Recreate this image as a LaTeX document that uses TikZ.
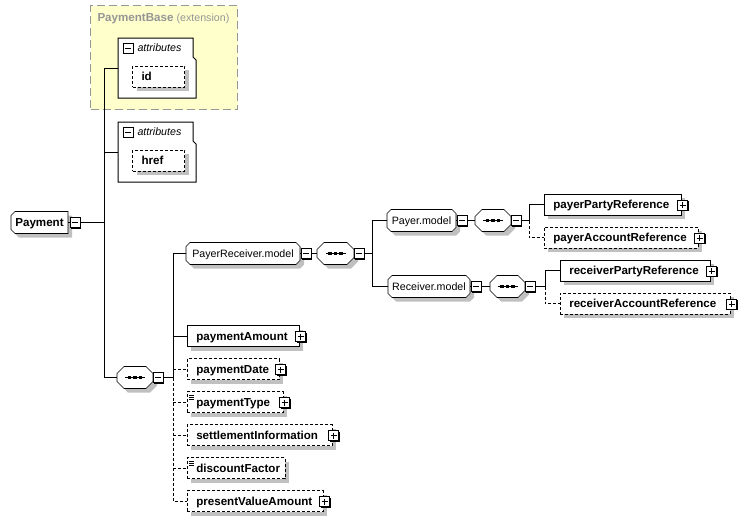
\documentclass[tikz,border=0pt]{standalone}
\usepackage{fontspec}
\setmainfont{Liberation Sans}
\usetikzlibrary{shadows,backgrounds,calc}
\newdimen\pxu \pxu=0.75pt
\definecolor{shgray}{RGB}{192,192,192}
\definecolor{baseyellow}{RGB}{255,255,204}
\definecolor{basegray}{RGB}{150,150,150}
\newcommand\regfont{\fontsize{8}{9.6}\selectfont}
\newcommand\boldfont{\fontsize{8.7}{10}\selectfont\bfseries}
% group outline: node, left cut, right cut, offset, style
\newcommand\grpshape[5]{%
  \filldraw[#5] ([shift={(#2+#4,#4)}]#1.north west) -- ([shift={(-#3+#4,#4)}]#1.north east)
    -- ([shift={(#4,#3+#4)}]#1.north east) -- ([shift={(#4,-#3+#4)}]#1.south east)
    -- ([shift={(-#3+#4,#4)}]#1.south east) -- ([shift={(#2+#4,#4)}]#1.south west)
    -- ([shift={(#4,-#2+#4)}]#1.south west) -- ([shift={(#4,#2+#4)}]#1.north west) -- cycle;}
\newcommand\grpbox[3]{%
  \grpshape{#1}{#2}{#3}{4}{fill=shgray, draw=none}
  \grpshape{#1}{#2}{#3}{0}{fill=white, draw=black}}
% attributes tab
\newcommand\attrshape[1]{%
  \filldraw[fill=white] (#1.north west) -- ([shift={(-3,0)}]#1.north east)
    -- ([shift={(-3,19)}]#1.north east) -- ([shift={(0,22)}]#1.north east)
    -- (#1.south east) -- (#1.south west) -- cycle;}
\tikzset{
  elem/.style={draw, fill=white, anchor=west, inner xsep=9\pxu, inner ysep=0pt,
    minimum height=21\pxu, text width=#1\pxu, align=left,
    text height=6.2pt, text depth=0pt, font=\boldfont,
    drop shadow={shadow xshift=3pt, shadow yshift=-3pt, fill=shgray, opacity=1}},
  optelem/.style={elem=#1, dash pattern=on 2.25pt off 1.5pt},
  grp/.style={anchor=west, inner sep=0pt, minimum width=#1\pxu, minimum height=21\pxu,
    text height=5.7pt, text depth=0pt, font=\regfont},
  seq/.style={anchor=west, inner sep=0pt, minimum width=#1\pxu, minimum height=21\pxu},
  optwire/.style={dash pattern=on 2.25pt off 1.5pt},
  basebox/.style={anchor=north west, inner sep=0pt, fill=baseyellow, draw=basegray,
    line width=1.1pt, dash pattern=on 6pt off 3pt},
  attrbox/.style={anchor=north west, inner sep=0pt, minimum width=77\pxu, minimum height=59\pxu},
  attrlabel/.style={anchor=west, inner sep=0pt, text height=5.7pt, text depth=0pt,
    font=\regfont\itshape},
  minusbox/.pic={
    \fill[black] (-4,-4) rectangle (6.2,6.2);
    \filldraw[fill=white] (-5,-5) rectangle (5,5);
    \draw (-3,0) -- (3,0);},
  plusbox/.pic={
    \fill[black] (-4,-4) rectangle (6.2,6.2);
    \filldraw[fill=white] (-5,-5) rectangle (5,5);
    \draw (-3,0) -- (3,0) (0,-3) -- (0,3);},
  flatminus/.pic={
    \filldraw[fill=white] (-5,-5) rectangle (5,5);
    \draw (-3,0) -- (3,0);},
  seqsign/.pic={
    \draw (-10,0) -- (10,0);
    \foreach \d in {-5.5,0,5.5} \fill (\d-1.6,-1.6) rectangle (\d+1.6,1.6);},
  simpletype/.pic={
    \foreach \d in {0,2,4} \draw[line width=0.6pt] (0,\d) -- (5,\d);},
}
\begin{document}
\begin{tikzpicture}[x=0.75pt, y=-0.75pt, line width=0.75pt]
  \useasboundingbox (0,0) rectangle (756,521);
  %%%%%%%%%%%%%%%%%%%%%%%%%%%%%%%%%
  % base type
  \node[basebox, minimum width=147\pxu, minimum height=104\pxu] (base) at (90,5) {};
  \node[anchor=west, inner sep=0pt, text=basegray, font=\regfont] (baseLabel) at (97,19)
    {{\fontsize{8.7}{10}\selectfont\bfseries PaymentBase} (extension)};
  % attributes
  \node[attrbox] (attrA) at (118,38) {};
  \attrshape{attrA}
  \node[attrlabel] (attrAlabel) at ([shift={(19,10)}]attrA.north west) {attributes};
  \node[optelem=34] (id) at (132,76.5) {id};
  \node[attrbox] (attrB) at (118,122) {};
  \attrshape{attrB}
  \node[attrlabel] (attrBlabel) at ([shift={(19,10)}]attrB.north west) {attributes};
  \node[optelem=34] (href) at (132,160.5) {href};
  %%%%%%%%%%%%%%%%%%%%%%%%%%%%%%%%%
  % groups and sequences
  \node[grp=56, font=\boldfont] (Payment) at (11,222.5) {Payment};
  \node[seq=35] (mainSeq) at (117,377.5) {};
  \node[grp=113] (PayerReceiver) at (186,253.5) {PayerReceiver.model};
  \node[seq=36] (prSeq) at (317,253.5) {};
  \node[grp=68] (PayerModel) at (387,220.5) {Payer.model};
  \node[seq=35] (payerSeq) at (475,220.5) {};
  \node[grp=81] (ReceiverModel) at (388,286.5) {Receiver.model};
  \node[seq=34] (receiverSeq) at (490,286.5) {};
  \begin{pgfonlayer}{background}
    \grpbox{Payment}{4}{0}
    \foreach \g in {PayerReceiver,PayerModel,ReceiverModel} {\grpbox{\g}{4}{4}}
    \foreach \s in {mainSeq,prSeq,payerSeq,receiverSeq} {\grpbox{\s}{7}{7}}
  \end{pgfonlayer}
  %%%%%%%%%%%%%%%%%%%%%%%%%%%%%%%%%
  % elements
  \node[elem=119] (payerParty) at (544,204.5) {payerPartyReference};
  \node[optelem=136] (payerAccount) at (544,237.5) {payerAccountReference};
  \node[elem=132] (receiverParty) at (560,270.5) {receiverPartyReference};
  \node[optelem=152] (receiverAccount) at (560,303.5) {receiverAccountReference};
  \node[elem=94] (paymentAmount) at (187,336) {paymentAmount};
  \node[optelem=74] (paymentDate) at (187,369) {paymentDate};
  \node[optelem=78] (paymentType) at (187,402) {paymentType};
  \node[optelem=127] (settlementInformation) at (187,435) {settlementInformation};
  \node[optelem=80] (discountFactor) at (187,468) {discountFactor};
  \node[optelem=118] (presentValueAmount) at (187,501) {presentValueAmount};
  %%%%%%%%%%%%%%%%%%%%%%%%%%%%%%%%%
  % connectors
  \coordinate (fork) at (104,222.5);
  \coordinate (colA) at (173,377.5);
  \coordinate (colB) at (372,253.5);
  \coordinate (colC) at (529,220.5);
  \coordinate (colD) at (545,286.5);
  \draw (Payment.east) -- (fork);
  \draw (attrA.west) -- (attrA.west -| fork) -- (mainSeq.west -| fork) -- (mainSeq.west);
  \draw (attrB.west) -- (attrB.west -| fork);
  \draw (mainSeq.east) -- (colA);
  \draw (PayerReceiver.west) -- (PayerReceiver.west -| colA) -- (colA);
  \draw (paymentAmount.west) -- (paymentAmount.west -| colA);
  \draw[optwire] (colA) -- (presentValueAmount.west -| colA) -- (presentValueAmount.west);
  \foreach \n in {paymentDate,paymentType,settlementInformation,discountFactor}
    \draw[optwire] (\n.west -| colA) -- (\n.west);
  \draw (PayerReceiver.east) -- (prSeq.west);
  \draw (prSeq.east) -- (colB);
  \draw (PayerModel.west) -- (PayerModel.west -| colB) -- (ReceiverModel.west -| colB) -- (ReceiverModel.west);
  \draw (PayerModel.east) -- (payerSeq.west);
  \draw (payerSeq.east) -- (colC);
  \draw (payerParty.west) -- (payerParty.west -| colC) -- (colC);
  \draw[optwire] (colC) -- (payerAccount.west -| colC) -- (payerAccount.west);
  \draw (ReceiverModel.east) -- (receiverSeq.west);
  \draw (receiverSeq.east) -- (colD);
  \draw (receiverParty.west) -- (receiverParty.west -| colD) -- (colD);
  \draw[optwire] (colD) -- (receiverAccount.west -| colD) -- (receiverAccount.west);
  %%%%%%%%%%%%%%%%%%%%%%%%%%%%%%%%%
  % icons
  \pic at ([shift={(10,10)}]attrA.north west) {flatminus};
  \pic at ([shift={(10,10)}]attrB.north west) {flatminus};
  \pic at ([shift={(7,0)}]Payment.east) {minusbox};
  \foreach \g in {PayerReceiver,PayerModel,ReceiverModel}
    \pic at ([shift={(6,0)}]\g.east) {minusbox};
  \foreach \s in {mainSeq,prSeq,payerSeq,receiverSeq} {
    \pic at ([shift={(5,0)}]\s.east) {minusbox};
    \pic at (\s.center) {seqsign};}
  \foreach \e in {payerParty,payerAccount,receiverParty,receiverAccount,paymentAmount,
      paymentDate,paymentType,settlementInformation,presentValueAmount}
    \pic at ([shift={(1,0.5)}]\e.east) {plusbox};
  \pic at ([shift={(2,4)}]paymentType.north west) {simpletype};
  \pic at ([shift={(2,4)}]discountFactor.north west) {simpletype};
\end{tikzpicture}
\end{document}
